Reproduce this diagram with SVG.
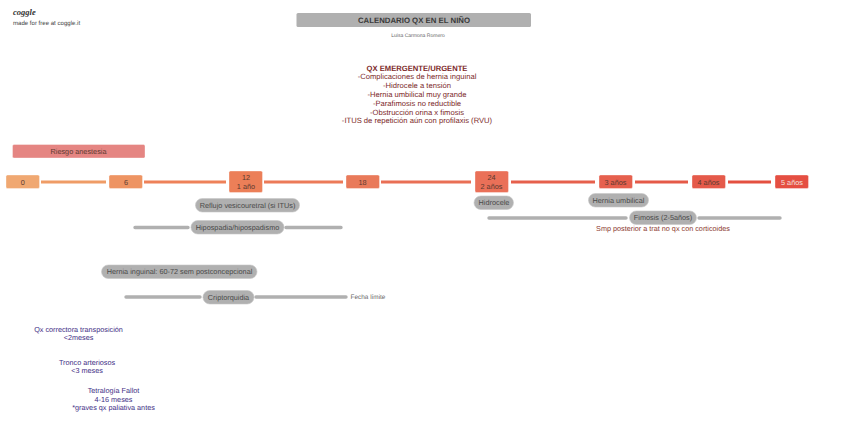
<svg xmlns="http://www.w3.org/2000/svg" width="848" height="433" viewBox="0 0 848 433">
<style>
text{font-family:"Liberation Sans",Arial,sans-serif;text-anchor:middle;text-rendering:geometricPrecision}
.t{font-size:7.300px;fill:#5c3a30}
.p{fill:#b0b0b0;stroke:#c8c8c8;stroke-width:.6}
.pt{font-size:7.300px;fill:#4a4a4a}
.box{stroke-width:.8;stroke-opacity:.45;stroke:#fff}
.red{font-size:7.630px;fill:#7d2a2a}
.blue{font-size:7.250px;fill:#3f2f86}
.g{stroke:#b0b0b0;stroke-width:3.4;stroke-linecap:round;fill:none}
.c{stroke-width:3;stroke-linecap:butt;fill:none}
</style>
<g id="logo"><text x="13" y="14.500" font-size="8.500" font-style="italic" font-weight="700" style="text-anchor:start;font-family:'Liberation Serif',serif" fill="#333">coggle</text>
<text x="13" y="25" font-size="6.070" style="text-anchor:start" fill="#444">made for free at coggle.it</text></g>
<g id="connectors">
<path class="c" stroke="#ef9c66" d="M41 182H106"/>
<path class="c" stroke="#ee8159" d="M144 182H226"/>
<path class="c" stroke="#ec7a58" d="M264 182H343"/>
<path class="c" stroke="#e96f55" d="M381 182H471"/>
<path class="c" stroke="#e6604c" d="M511 182H595"/>
<path class="c" stroke="#e55a48" d="M635 182H688"/>
<path class="c" stroke="#e45040" d="M728 182H771"/>
<path class="g" d="M135 227.500H188M286 227.500H341"/>
<path class="g" d="M126 297H200M256 297H346"/>
<path class="g" d="M489 218H626M699 218H780"/>
</g>
<g id="title"><rect x="296.500" y="13" width="234.500" height="14" rx="1.500" fill="#b0b0b0"/><text x="414" y="22.800" font-size="7.800" font-weight="700" fill="#3a3a3a">CALENDARIO QX EN EL NIÑO</text></g>
<g id="author"><text x="418" y="37" font-size="5.050" fill="#666">Luisa Carmona Romero</text></g>
<g id="urgente">
<text x="417" y="70.500" class="red" font-weight="700">QX EMERGENTE/URGENTE</text>
<text x="417" y="79" class="red">-Complicaciones de hernia inguinal</text>
<text x="417" y="88" class="red">-Hidrocele a tensión</text>
<text x="417" y="97" class="red">-Hernia umbilical muy grande</text>
<text x="417" y="105.500" class="red">-Parafimosis no reductible</text>
<text x="417" y="114.500" class="red">-Obstrucción orina x fimosis</text>
<text x="417" y="123" class="red">-ITUS de repetición aún con profilaxis (RVU)</text>
</g>
<g id="riesgo"><rect class="box" x="12.500" y="144.500" width="132.500" height="13.500" rx="1.500" fill="#e58582"/><text class="t" x="78.500" y="154">Riesgo anestesia</text></g>
<g id="n0"><rect class="box" x="6" y="175" width="33.500" height="13.500" rx="1.500" fill="#f0a872"/><text class="t" x="22.700" y="184.500">0</text></g>
<g id="n6"><rect class="box" x="109" y="175" width="33.500" height="13.500" rx="1.500" fill="#ee9463"/><text class="t" x="126" y="184.500">6</text></g>
<g id="n12"><rect class="box" x="229" y="171" width="33.500" height="21.500" rx="1.500" fill="#ec7f58"/><text class="t" x="246" y="180.300">12</text><text class="t" x="246" y="188.800">1 año</text></g>
<g id="n18"><rect class="box" x="346" y="175" width="33.500" height="13.500" rx="1.500" fill="#e97a5a"/><text class="t" x="362.500" y="184.500">18</text></g>
<g id="n24"><rect class="box" x="475" y="171" width="33.500" height="21.500" rx="1.500" fill="#ea7058"/><text class="t" x="491.500" y="180.300">24</text><text class="t" x="491.500" y="188.800">2 años</text></g>
<g id="n3"><rect class="box" x="599" y="175" width="33.500" height="13.500" rx="1.500" fill="#e6604e"/><text class="t" x="615.500" y="184.500">3 años</text></g>
<g id="n4"><rect class="box" x="692" y="175" width="33.500" height="13.500" rx="1.500" fill="#e55a4a"/><text class="t" x="708.500" y="184.500">4 años</text></g>
<g id="n5"><rect class="box" x="775" y="175" width="33.500" height="13.500" rx="1.500" fill="#e54f42"/><text x="792" y="184.500" font-size="7.300" fill="#f3e3df">5 años</text></g>
<g id="reflujo"><rect class="p" x="195.500" y="198.500" width="104" height="13.500" rx="6.700"/><text class="pt" x="247.500" y="207.800">Reflujo vesicouretral (si ITUs)</text></g>
<g id="hipospadia"><rect class="p" x="191" y="220.500" width="93" height="13.500" rx="6.700"/><text class="pt" x="237.500" y="229.800">Hipospadia/hipospadismo</text></g>
<g id="hernia-inguinal"><rect class="p" x="101.500" y="265" width="155.500" height="13.500" rx="6.700"/><text class="pt" x="179.500" y="274.300">Hernia inguinal: 60-72 sem postconcepcional</text></g>
<g id="criptorquidia"><rect class="p" x="203" y="290.500" width="51" height="13.500" rx="6.700"/><text class="pt" x="228.500" y="299.800">Criptorquidia</text></g>
<g id="fecha"><text x="368" y="299.300" font-size="6.400" fill="#666">Fecha límite</text></g>
<g id="hidrocele"><rect class="p" x="474" y="196" width="39.500" height="13.500" rx="6.700"/><text class="pt" x="494" y="205.300">Hidrocele</text></g>
<g id="hernia-umbilical"><rect class="p" x="588.500" y="193.500" width="60" height="13.500" rx="6.700"/><text class="pt" x="618.500" y="202.800">Hernia umbilical</text></g>
<g id="fimosis"><rect class="p" x="629.500" y="211" width="67" height="13.500" rx="6.700"/><text class="pt" x="663" y="220.300">Fimosis (2-5años)</text></g>
<g id="smp"><text x="663" y="231.200" font-size="7.250" fill="#8c3a30">Smp posterior a trat no qx con corticoides</text></g>
<g id="transposicion"><text class="blue" x="78.500" y="331.500">Qx correctora transposición</text><text class="blue" x="78.500" y="340">&lt;2meses</text></g>
<g id="tronco"><text class="blue" x="87" y="364.500">Tronco arteriosos</text><text class="blue" x="87" y="373">&lt;3 meses</text></g>
<g id="fallot"><text class="blue" x="113.500" y="393">Tetralogía Fallot</text><text class="blue" x="113.500" y="401.500">4-16 meses</text><text class="blue" x="113.500" y="410">*graves qx paliativa antes</text></g>
</svg>
